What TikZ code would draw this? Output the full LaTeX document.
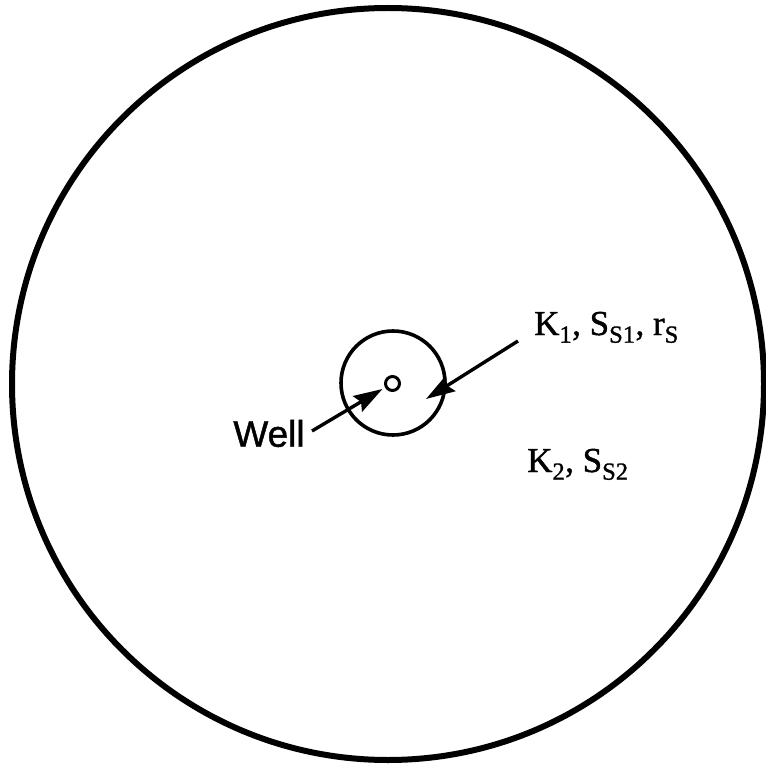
\documentclass[tikz,border=0pt]{standalone}
\usepackage{fontspec}
\setmainfont[FakeBold=1.2,AutoFakeBold=1.2]{Liberation Serif}
\newfontfamily\serifheavy[FakeBold=1.2]{Liberation Serif}
\newfontfamily\wellfont[FakeBold=1.2]{Liberation Sans}
\usetikzlibrary{arrows.meta}
\begin{document}
\begin{tikzpicture}[x=1pt,y=-1pt,
  ring/.style={draw=black,circle,inner sep=0pt,outer sep=0pt},
  arr/.style={draw=black,line width=3.4pt,-{Stealth[length=29pt,width=18pt,inset=4pt]}},
  lbl/.style={inner sep=0pt,font=\serifheavy\fontsize{35}{40}\selectfont}]
\useasboundingbox (0,0) rectangle (766,765);
\node[ring,line width=6pt,minimum size=752pt] (outer) at (388,384) {};
\node[ring,line width=3.6pt,minimum size=104pt] (inner) at (393,383) {};
\node[ring,line width=3pt,minimum size=14pt] (well) at (392.5,383.5) {};
\node[inner sep=0pt,font=\wellfont\fontsize{37}{40}\selectfont] (wl) at (269,433.5) {Well};
\node[lbl,anchor=base west] (k1) at (534,335) {K\textsubscript{1}, S\textsubscript{S1}, r\textsubscript{S}};
\node[lbl,anchor=base west] (k2) at (527,472) {K\textsubscript{2}, S\textsubscript{S2}};
\coordinate (wstart) at (312,431);
\coordinate (wtip) at (382.5,389);
\coordinate (kstart) at (518,341);
\coordinate (ktip) at (426,399);
\draw[arr] (wstart) -- (wtip);
\draw[arr] (kstart) -- (ktip);
\end{tikzpicture}
\end{document}
